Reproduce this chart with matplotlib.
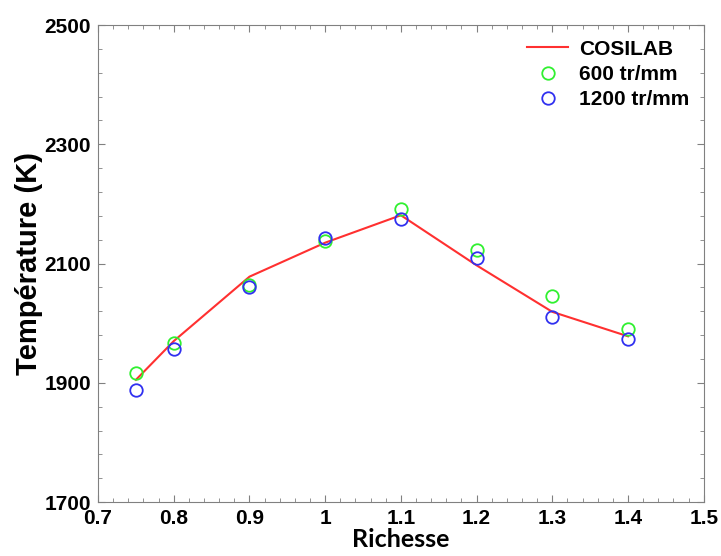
import matplotlib.pyplot as plt
from matplotlib.ticker import MultipleLocator, FuncFormatter

# data
richesse = [0.75, 0.8, 0.9, 1.0, 1.1, 1.2, 1.3, 1.4]
t_cosilab = [1905, 1970, 2078, 2135, 2181, 2097, 2019, 1978]
t_600 = [1916, 1967, 2064, 2138, 2192, 2123, 2046, 1990]
t_1200 = [1888, 1957, 2060, 2142, 2175, 2110, 2011, 1974]
y_major = [1700, 1900, 2100, 2300, 2500]

fig = plt.figure(figsize=(7.21, 5.56), dpi=100)
ax = fig.add_axes([0.136, 0.097, 0.84, 0.858])

ax.plot(richesse, t_cosilab, color="#ff3030", lw=1.5, label="COSILAB")
ax.plot(richesse, t_600, "o", ms=9, mfc="none", mec="#30f030", mew=1.3,
        label="600 tr/mm")
ax.plot(richesse, t_1200, "o", ms=9, mfc="none", mec="#3030f0", mew=1.3,
        label="1200 tr/mm")

ax.set_xlim(0.7, 1.5)
ax.set_ylim(1700, 2500)
ax.xaxis.set_major_locator(MultipleLocator(0.1))
ax.xaxis.set_minor_locator(MultipleLocator(0.02))
ax.set_yticks(y_major)
ax.set_yticks(range(1700, 2501, 40), minor=True)
ax.xaxis.set_major_formatter(FuncFormatter(lambda v, p: "%g" % round(v, 2)))

for s in ax.spines.values():
    s.set_color("#808080")
ax.tick_params(which="both", direction="in", top=True, right=True,
               color="#808080")
ax.tick_params(which="major", length=5, pad=5)
ax.tick_params(which="minor", length=3)
for lab in ax.get_xticklabels() + ax.get_yticklabels():
    lab.set_family("Liberation Sans")
    lab.set_fontweight("bold")
    lab.set_fontsize(15)

ax.set_xlabel("Richesse", family="Lato", fontweight="bold", fontsize=18,
              labelpad=0)
ax.set_ylabel("Température (K)", family="Liberation Sans", fontweight="bold",
              fontsize=21, labelpad=1)

ax.legend(loc="upper right", frameon=False, handlelength=2.0,
          handletextpad=0.5, borderaxespad=0.3, labelspacing=0.3,
          prop={"family": "Liberation Sans", "weight": "bold", "size": 15})

fig.savefig("out.png", dpi=100)
